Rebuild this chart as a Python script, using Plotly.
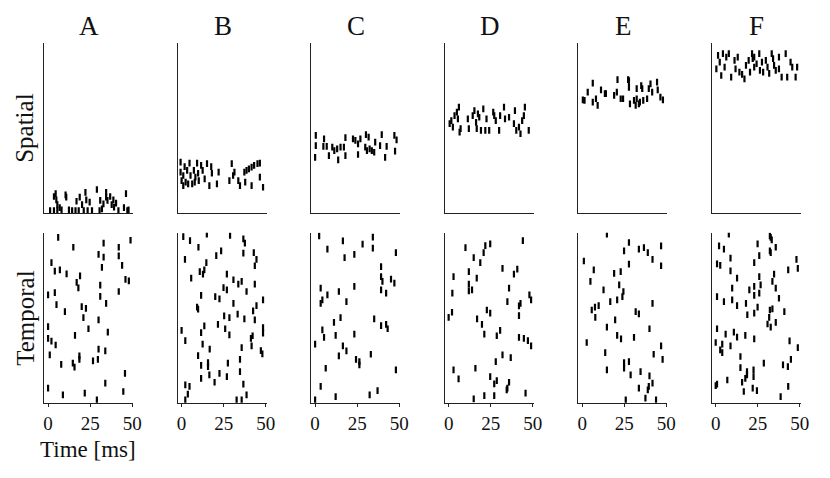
import plotly.graph_objects as go

# The page body has an 8px margin, so the figure occupies the window minus that offset.
OFF = 8
W, H = 830 - OFF, 478 - OFF
FONT = "Liberation Serif"

panel_labels = ["A", "B", "C", "D", "E", "F"]
row_labels = ["Spatial", "Temporal"]
time_ticks = [0, 25, 50]

# ---------------- Spatial row: spike times (ms) and neuron indices ----------------
sp_A_t = [4.5, 4.9, 5.5, 6.9, 8, 3.5, 1.2, 10.4, 10.8, 12.4, 16.9, 18.8, 20.2, 22.2, 22.7, 23.5, 24.7, 26.1,
          29, 30.6, 32, 32.9, 34.5, 35.3, 36.9, 37.8, 39.2, 40.4, 41.8, 45.1, 46.3, 47.1, 47.8, 18.2, 16.3,
          14.3, 34.5, 31, 5.5, 3.5, 21.2, 38.8]
sp_A_n = [6, 3.8, 2.1, 1, 0.2, 0, 0, 5.6, 4.8, 0.2, 3.3, 4.8, 2.1, 6.5, 3.8, 0, 3, 0,
          7.5, 0, 0.6, 2.4, 6.5, 3.6, 5, 2.1, 1.2, 2.6, 0, 1, 6, 0, 0.2, 0, 0,
          0, 4.8, 3.6, 0, 5, 0, 3.8]

sp_B_t = [-0.6, -0.6, 0, 1, 1.8, 2.4, 3.3, 3.9, 4.7, 5.3, 6.3, 7.3, 7.8, 9.2, 9.8, 10.2, 11.6, 12.5, 13.7,
          15.1, 16.5, 17.6, 18, 21, 22, 29.8, 28.4, 31.4, 33.7, 34.7, 37.3, 38.6, 40, 41.6, 43.1, 45.1, 46.5,
          46.5, 48.4, 41.6, 37.8, 30.6, 8.2, 1]
sp_B_n = [17.3, 13.7, 10.7, 12.5, 15.7, 10.1, 14.3, 9.5, 16.9, 12.5, 9.5, 14.3, 10.1, 16.9, 13.3, 10.7, 16.1,
          14.3, 11.3, 16.7, 8.9, 15.7, 13.3, 9.5, 13.7, 16.7, 10.7, 13.7, 10.7, 8.9, 13.7, 14.3, 14.9, 15.5,
          16.1, 16.7, 16.9, 11.9, 8.3, 8.9, 10.1, 12.5, 11.9, 8.9]

sp_C_t = [0.4, 0.4, 0, 5.3, 4.9, 6.9, 8.2, 10.2, 11.4, 13.1, 13.7, 15.1, 17.1, 18, 18, 22.5, 23.9, 25.5, 25.5,
          26.9, 30.2, 29.8, 30.8, 32.4, 33.7, 35.1, 35.7, 39.6, 38.6, 41.6, 42.5, 47.1, 48.4, 47.5, 31.8]
sp_C_n = [26.8, 23.2, 19, 25.6, 22.9, 22.9, 19.6, 22.6, 21.4, 22, 18.1, 22.6, 22.6, 26, 19.6, 25.6, 25, 23.8,
          20, 25.6, 27.1, 22.6, 21.4, 22, 21.4, 20.8, 24.4, 27.1, 23.2, 19, 22.9, 26.8, 25.2, 21.2, 26.2]

sp_D_t = [0.6, 1.6, 2.5, 3.5, 4.9, 5.5, 6.5, 6.1, 7.1, 11.4, 12, 14.3, 15.3, 16.3, 16.7, 18.2, 19.2, 20.6,
          21.8, 22.5, 24.1, 26.5, 27.1, 28, 30, 30.6, 32.9, 33.5, 35.9, 38.8, 39.4, 40.2, 41.8, 42.7, 43.7,
          45.3, 44.7, 47.6, 17.4]
sp_D_n = [31, 32.1, 29.8, 33.9, 35.1, 32.7, 28, 36.9, 29.2, 32.7, 29.2, 33.9, 35.7, 31.5, 29.2, 33.3, 28.6,
          36.3, 28.6, 32.7, 28.6, 35.1, 33.9, 32.1, 28.6, 33.9, 36.9, 32.7, 33.3, 31, 35.7, 28.6, 29.8, 27.4,
          32.1, 36.9, 33.9, 28.6, 34.5]

sp_E_t = [0.4, 1.4, 3.3, 6.3, 6.3, 8.2, 9.2, 11.2, 13.5, 14.1, 19, 20.6, 21, 22.9, 24.3, 27.3, 27.8, 27.8,
          28.4, 30.8, 31.8, 32.4, 33.7, 34.3, 35.1, 36.3, 38.6, 39.6, 40.6, 41.6, 44.5, 44.9, 46.5, 48,
          35.7, 32.4]
sp_E_n = [39.5, 39.3, 42.3, 45.5, 38.7, 39.9, 37.5, 43.1, 41.7, 41.7, 41.1, 42.3, 46.7, 39.9, 39.9, 46.7,
          46.4, 44, 38.1, 39.3, 37.5, 43.5, 38.1, 38.7, 44.6, 39.3, 39.9, 43.5, 45.2, 42.3, 45.8, 43.1, 40.5,
          39.5, 43.5, 39.9]

sp_F_t = [1.4, 0.4, 2.4, 3.3, 5.3, 6.3, 7.8, 9.2, 11.2, 11.8, 13.1, 15.7, 17.1, 18, 19.6, 20.4, 21.6, 22,
          22.9, 22.9, 24.3, 25.9, 26.3, 27.5, 28.2, 29.8, 30.8, 31.8, 33.3, 34.1, 34.7, 35.7, 37.6, 39.2,
          41.6, 42.5, 44.5, 45.5, 47.5, 48.4, 37.6, 14.1, 4.3]
sp_F_n = [55.4, 50.6, 53, 48.2, 51.2, 54.8, 56, 47.6, 53.6, 50.6, 54.8, 48.6, 47, 51.8, 53.6, 49.4, 56, 54.2,
          54.8, 51.2, 52.4, 56, 50, 53, 49.4, 53.6, 51.2, 49, 56, 54.2, 51.8, 50, 54.8, 47.6, 56, 47.6, 53,
          51.2, 47.6, 51.2, 50.6, 49.4, 56]

# ---------------- Temporal row ----------------
tp_A_t = [6, 15, 33, 49, 42, 30, 33, 42, 2, 32, 44, 4, 7, 11, 19, 17, 18, 31, 46, 48, 42, 0, 4, 31, 5, 34.5,
          20, 22.5, 10, 21, 30, 0, 24, 35.5, 16, 0, 2, 4.5, 30, 34, 1, 18.6, 18.6, 7.8, 14.7, 15.7, 26.7,
          29.6, 45.7, 34, 0, 44.7, 8.8, 21.8, 29]
tp_A_n = [58, 54.5, 56, 57, 54.5, 52, 51, 51.4, 49, 47.3, 48, 46, 46.4, 45, 44.3, 42, 40, 41, 43, 42.5, 38.7,
          37.5, 38.3, 37, 34, 34.5, 33.3, 32.7, 31.5, 29.4, 28.6, 26.2, 25.4, 24.2, 23, 22, 21, 19.6, 18.1,
          17.5, 16.1, 15.7, 14.5, 12.7, 13.1, 11.7, 13.9, 14.5, 9.5, 6, 4.2, 3, 1.8, 2.4, 0]

tp_B_t = [1, 5, 2, 10, 15, 23.5, 20.6, 14.7, 28.8, 36.7, 37.6, 42.9, 44.5, 43.5, 36.7, 10.8, 13.5, 12.7, 5.7,
          26.9, 30.8, 33.7, 35.7, 43.5, 24.9, 26.9, 38.6, 11.6, 20, 22.5, 30.8, 48.4, 44.5, 9.2, 9.8, 33.3,
          25.3, 28.4, 37.3, 42.5, 43.5, 13.5, 21.6, 25.9, 0, 11.6, 28.4, 48.4, 2.2, 41.2, 42.2, 48.4, 12.5,
          16.7, 35.7, 41.6, 47.1, 48, 9.8, 34.7, 11.6, 15.7, 15.7, 27.5, 34.7, 16.5, 11.6, 22.5, 26.9, 19.6,
          36.7, 2.2, 4.7, 3.7, 38.6, 32.7, 2.2, 35.7]
tp_B_n = [58.3, 56.9, 50.2, 54.5, 59.2, 53.2, 51.5, 49, 58.7, 57.5, 56, 52.6, 50.2, 47.9, 52.4, 45.8, 46.4,
          44.9, 43.5, 44.9, 42.9, 41.3, 42.3, 41.3, 40.1, 39.3, 38.7, 37.3, 36.9, 36.1, 34.5, 35.7, 33.7,
          33.1, 32.4, 30.6, 30, 29.4, 28.9, 31.8, 28.6, 26.4, 27, 25.4, 24.8, 24, 23.2, 25.8, 21.2, 22, 22.9,
          23.8, 19.9, 18.1, 18.7, 19.3, 17.6, 16.4, 15.8, 14.5, 12.3, 13.3, 11.9, 13.1, 10.1, 8.9, 7.7, 9.5,
          8.3, 6.3, 5.6, 5.4, 4.8, 2.1, 1.8, 0, 0, 0]

tp_C_t = [2.4, 16.5, 34.3, 34.3, 7.3, 28.2, 23.3, 17.5, 48, 39.2, 39.2, 40, 45.1, 47.1, 3.3, 23.3, 39.2, 42.2,
          14.1, 7.3, 4.3, 3.3, 18.6, 11.2, 15.1, 35.1, 39.2, 42.2, 43.1, 4.3, 5.3, 12.2, 23.3, 0, 16.5, 18.6,
          14.1, 33.1, 24.3, 26.3, 26.3, 6.3, 48, 3.3, 12.2, 37.1, 32.4, 0]
tp_C_n = [58.6, 56.8, 58.1, 54.2, 53.8, 55.6, 52, 50.8, 52.6, 47.6, 44, 42.3, 43.1, 41.7, 39.9, 40.5, 39.3,
          38.1, 38.7, 37.5, 35.7, 34.5, 35.1, 27.7, 29.4, 28.9, 26.5, 27, 25.4, 25, 22.3, 23, 23.5, 19.9,
          19.3, 17.5, 15.7, 16.3, 14.5, 13.7, 12.5, 11.3, 10.7, 4.8, 1.2, 3.3, 1.8, 0]

tp_D_t = [44.1, 10, 21.8, 24.7, 20.8, 14.9, 18.8, 12, 32, 40.8, 38.8, 2.9, 16.7, 12, 12, 13.9, 35.9, 2.2, 48,
          49, 34.9, 42.7, 41.8, 22.7, 24.7, 2, 0, 41.8, 16.9, 19.8, 21.2, 28.6, 30.6, 41.8, 44.7, 47.1, 49,
          32, 36.9, 28, 2.9, 15.9, 5.9, 24.7, 28.6, 27.1, 35.9, 34.5, 34.9, 21.2, 27.1, 14.9, 45.7]
tp_D_n = [56.9, 54.4, 55.1, 55.7, 52.6, 50.8, 49, 45.8, 47, 46.7, 44.9, 44, 43.5, 41.3, 38.9, 39.3, 39.9, 38.1,
          37.5, 35.7, 35.1, 34.5, 33.6, 32.1, 31, 31.3, 29.5, 30.1, 28.9, 27, 23.5, 22.9, 24.8, 22.3, 22,
          21.2, 19.3, 16.1, 15.1, 13.7, 10.7, 11.3, 7.5, 8.3, 6.9, 5.7, 6.3, 3.6, 4.2, 1.5, 1.5, 0.4, 2.4]

tp_E_t = [14.7, 27.8, 24.9, 33.7, 36.7, 39, 46.9, 41.8, 46.9, 1, 27.8, 6.9, 19, 22.9, 4.9, 22, 12.7, 24.5,
          23.9, 16.7, 20.8, 41.8, 5.7, 7.6, 9.8, 7.8, 31.8, 33.7, 19.6, 14.7, 40, 20.8, 23.1, 30.8, 2.7, 46.9,
          42.5, 13.7, 47.8, 27.8, 24.9, 24.9, 14.7, 34.7, 28.8, 40, 41.8, 39.6, 33.7, 39, 25.9, 37.6, 43.9]
tp_E_n = [59.2, 56.2, 53.2, 53.8, 54.4, 52.6, 55, 50.2, 47.9, 49.6, 48.5, 46.4, 45.2, 45.8, 42.3, 41.1, 39.3,
          38.7, 36.9, 35.1, 35.7, 34.5, 32.1, 33.1, 33.7, 29.5, 31.5, 30.7, 28.6, 26, 25.4, 23, 21.8, 22.3,
          20.5, 19.3, 16.3, 16.9, 14.5, 13.7, 13.3, 11.3, 10.7, 10.1, 8.9, 8.6, 6, 4.8, 4.2, 3.6, 0, 0.6, 0]

tp_F_t = [7.8, 32.2, 33.3, 32.7, 2, 4.9, 24.9, 35.7, 32.2, 32.7, 25.9, 8.8, 0.8, 2.7, 22.9, 48, 48.8, 43.1,
          8.8, 12.7, 25.9, 34.7, 33.7, 26.7, 9.8, 20, 22.9, 22.9, 25.9, 35.7, 0.8, 4.9, 9.8, 12.7, 18, 24.9,
          37.6, 32.2, 33.7, 40.8, 18.8, 22.9, 31.8, 30.8, 32.7, 35.7, 0.8, 5.9, 10.8, 12.7, 17.6, 22.9, 0,
          3.9, 8.8, 2.7, 3.9, 48.8, 43.9, 14.7, 28.6, 44.7, 40, 42.9, 14.7, 18.6, 22.5, 18.6, 22.5, 17.6,
          15.7, 6.9, 0.8, 0, 16.7, 22, 24.5, 43.1, 38.6]
tp_F_n = [59.2, 58.6, 57.1, 58, 55, 53.8, 55.7, 54.5, 53.2, 52.6, 51.5, 50.6, 48.6, 48, 49, 50.2, 47, 46.4,
          46.1, 43.5, 44, 44.9, 42.3, 41.1, 39.9, 39.3, 40.5, 37.3, 38.1, 39.9, 36.9, 35.1, 35.7, 33.7, 34.5,
          33.1, 36.3, 32.1, 32.5, 31.5, 30.4, 31, 29.5, 27.1, 26, 27.7, 25.4, 23.5, 24.2, 22.4, 23, 21.8,
          20.5, 19.9, 19.3, 17.9, 16.9, 18.7, 21.1, 15.5, 13.1, 14.5, 12.5, 11.9, 11.5, 10.1, 10.7, 8.9, 8.3,
          7.7, 6.3, 7.1, 5.6, 5.1, 3, 4.2, 3.3, 4.8, 1.2]

spatial = [(sp_A_t, sp_A_n), (sp_B_t, sp_B_n), (sp_C_t, sp_C_n),
           (sp_D_t, sp_D_n), (sp_E_t, sp_E_n), (sp_F_t, sp_F_n)]
temporal = [(tp_A_t, tp_A_n), (tp_B_t, tp_B_n), (tp_C_t, tp_C_n),
            (tp_D_t, tp_D_n), (tp_E_t, tp_E_n), (tp_F_t, tp_F_n)]

fig = go.Figure()

X_RANGE = [-2.3, 50.6]
Y_RANGE = [-1.0, 59.7]
row_px = [(43.3, 213.3), (232.7, 402.7)]  # top, bottom window pixel for each row
col_left0, col_step, col_w = 43.6, 135.0, 90.0


def fx(px):
    return (px - OFF) / W


def fy(py):
    return 1 - (py - OFF) / H


layout = dict(
    width=W, height=H, margin=dict(l=0, r=0, t=0, b=0),
    paper_bgcolor="white", plot_bgcolor="white", showlegend=False,
    font=dict(family=FONT, color="#111"),
)

idx = 0
for r, rowdata in enumerate([spatial, temporal]):
    top, bot = row_px[r]
    for c, (tt, nn) in enumerate(rowdata):
        idx += 1
        xa = "xaxis" if idx == 1 else f"xaxis{idx}"
        ya = "yaxis" if idx == 1 else f"yaxis{idx}"
        xref = "x" if idx == 1 else f"x{idx}"
        yref = "y" if idx == 1 else f"y{idx}"
        left = col_left0 + col_step * c
        layout[xa] = dict(
            domain=[fx(left), fx(left + col_w)], anchor=yref, range=X_RANGE,
            showline=True, linecolor="#222", linewidth=1.2, showgrid=False, zeroline=False,
            tickvals=time_ticks if r == 1 else [],
            ticks="outside" if r == 1 else "", ticklen=3, tickwidth=1, tickcolor="#222",
            showticklabels=(r == 1), tickfont=dict(family=FONT, size=19, color="#111"),
        )
        layout[ya] = dict(
            domain=[fy(bot), fy(top)], anchor=xref, range=Y_RANGE,
            showline=True, linecolor="#222", linewidth=1.2, showgrid=False, zeroline=False,
            showticklabels=False, ticks="",
        )
        fig.add_trace(go.Scatter(
            x=tt, y=nn, xaxis=xref, yaxis=yref, mode="markers",
            marker=dict(symbol="line-ns", size=4.8, color="black",
                        line=dict(width=2.2, color="black")),
            hoverinfo="skip",
        ))

annotations = []
for c, lab in enumerate(panel_labels):
    cx = 89 + col_step * c
    annotations.append(dict(text=lab, x=fx(cx), y=fy(26), xref="paper", yref="paper",
                            showarrow=False, xanchor="center", yanchor="middle",
                            font=dict(family=FONT, size=27, color="#111")))
annotations.append(dict(text=row_labels[0], x=fx(24), y=fy(128), xref="paper", yref="paper",
                        showarrow=False, textangle=-90, xanchor="center", yanchor="middle",
                        font=dict(family=FONT, size=25, color="#111")))
annotations.append(dict(text=row_labels[1], x=fx(24), y=fy(318), xref="paper", yref="paper",
                        showarrow=False, textangle=-90, xanchor="center", yanchor="middle",
                        font=dict(family=FONT, size=25, color="#111")))
annotations.append(dict(text="Time [ms]", x=fx(88), y=fy(449), xref="paper", yref="paper",
                        showarrow=False, xanchor="center", yanchor="middle",
                        font=dict(family=FONT, size=23, color="#111")))
layout["annotations"] = annotations

fig.update_layout(**layout)
fig.write_html("out.html")
